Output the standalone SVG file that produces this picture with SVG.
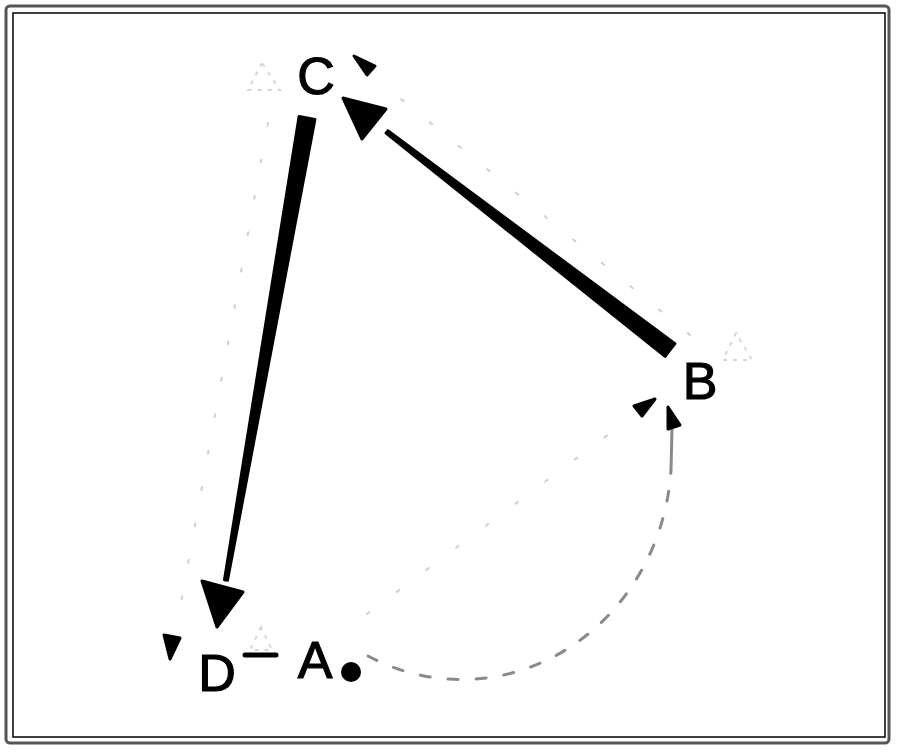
<svg xmlns="http://www.w3.org/2000/svg" width="900" height="752" viewBox="0 0 900 752">
  <style>
    .lbl { font-family: "Liberation Sans", Arial, sans-serif; font-size: 52px; fill: #000; stroke: #000; stroke-width: 1.2; text-anchor: middle; }
    .wedge { fill: #000; stroke: #000; stroke-width: 3; stroke-linejoin: round; }
    .head { fill: #000; stroke: #000; stroke-width: 3; stroke-linejoin: round; }
    .faint { fill: none; stroke: #cfcfcf; stroke-width: 2; stroke-dasharray: 3 34; stroke-linecap: round; }
    .ghost { fill: none; stroke: #d6d6d6; stroke-width: 2; stroke-dasharray: 4 6; }
    .dash { fill: none; stroke: #8a8a8a; stroke-width: 3; stroke-dasharray: 10 18; stroke-linecap: round; }
  </style>
  <rect x="0" y="0" width="900" height="752" fill="#fff"/>
  <rect x="6" y="6" width="883" height="737" rx="4" fill="none" stroke="#555" stroke-width="3"/>
  <rect x="13" y="13" width="872" height="724" fill="none" stroke="#000" stroke-width="1.5"/>

  <g id="connectors">
    <!-- C -> D thick tapered -->
    <polygon class="wedge" points="314.9,119.4 299.1,116.6 224.5,579.7 227.5,580.3"/>
    <polygon class="head" points="202,581 243,592 217,627"/>
    <!-- B -> C thick tapered -->
    <polygon class="wedge" points="674.9,343.7 665.1,356.3 386.1,133.2 387.9,130.8"/>
    <polygon class="head" points="343,98 386,109 362,139"/>
    <!-- A -> B dashed arc -->
    <path class="dash" d="M 368 656 A 210 225 0 0 0 671 470"/>
    <path d="M 671 470 L 672 428" fill="none" stroke="#8a8a8a" stroke-width="3"/>
    <polygon class="head" points="668,407 668,429 680,425"/>
    <!-- faint C -> D -->
    <path class="faint" d="M 268 123 L 176 630"/>
    <polygon class="head" points="164,635 180,638 170,659"/>
    <!-- faint B -> C -->
    <path class="faint" d="M 690 335 L 378 80"/>
    <polygon class="head" points="354,56 375,66 367,75"/>
    <!-- faint A -> B -->
    <path class="faint" d="M 367 614 L 632 417"/>
    <polygon class="head" points="655,399 634,406 642,416"/>
    <!-- D - A short line -->
    <line x1="245" y1="655" x2="276" y2="655" stroke="#000" stroke-width="5" stroke-linecap="round"/>
  </g>

  <g id="node-C">
    <polygon class="ghost" points="262,63 248,90 280,90"/>
    <text class="lbl" x="316" y="94">C</text>
  </g>
  <g id="node-B">
    <polygon class="ghost" points="736,333 723,360 752,360"/>
    <text class="lbl" x="700" y="399">B</text>
  </g>
  <g id="node-D">
    <text class="lbl" x="217" y="691">D</text>
  </g>
  <g id="node-A">
    <polygon class="ghost" points="261,627 250,650 272,650"/>
    <text class="lbl" x="315" y="678">A</text>
    <circle cx="351" cy="672" r="10" fill="#000"/>
  </g>
</svg>
